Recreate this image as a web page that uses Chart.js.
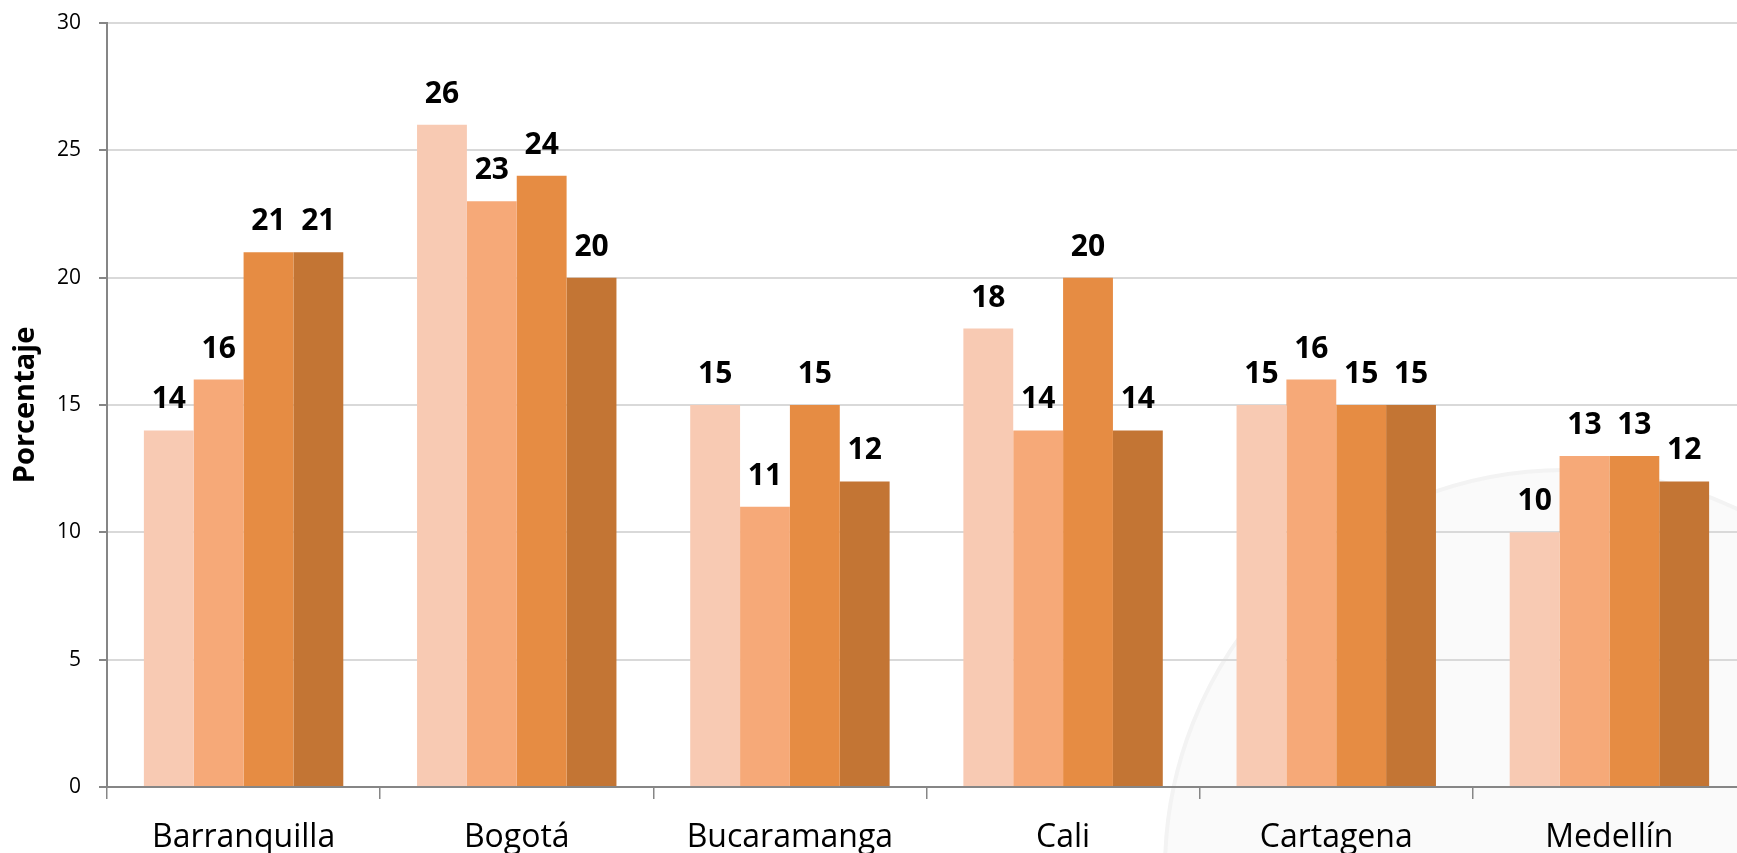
<!DOCTYPE html>
<html>
<head>
<meta charset="utf-8">
<script src="https://cdn.jsdelivr.net/npm/chart.js@4/dist/chart.umd.min.js"></script>
<style>
  html, body { margin: 0; padding: 0; background: #fff; overflow: hidden; }
  #wrap { position: relative; width: 1760px; height: 853px; }
</style>
</head>
<body>
<div id="wrap"><canvas id="chart"></canvas></div>
<script>
const ciudades = ['Barranquilla', 'Bogotá', 'Bucaramanga', 'Cali', 'Cartagena', 'Medellín'];
const serie1 = [14, 26, 15, 18, 15, 10];
const serie2 = [16, 23, 11, 14, 16, 13];
const serie3 = [21, 24, 15, 20, 15, 13];
const serie4 = [21, 20, 12, 14, 15, 12];
const yTicks = [0, 5, 10, 15, 20, 25, 30];

const colores = ['#F8CAB3', '#F6A978', '#E68C43', '#C37534'];
const FONT = "'Open Sans', 'DejaVu Sans', sans-serif";

// marca de agua tenue abajo a la derecha
const watermark = {
    id: 'watermark',
    beforeDraw(chart) {
        const ctx = chart.ctx;
        ctx.save();
        ctx.beginPath();
        ctx.arc(1565, 870, 400, 0, Math.PI * 2);
        ctx.fillStyle = '#FAFAFA';
        ctx.fill();
        ctx.lineWidth = 4;
        ctx.strokeStyle = '#F3F3F3';
        ctx.stroke();
        ctx.restore();
    }
};

// etiquetas de valor encima de cada barra
const valueLabels = {
    id: 'valueLabels',
    afterDatasetsDraw(chart) {
        const ctx = chart.ctx;
        ctx.save();
        ctx.font = 'bold 30px ' + FONT;
        ctx.fillStyle = '#000';
        ctx.textAlign = 'center';
        ctx.textBaseline = 'alphabetic';
        chart.data.datasets.forEach((ds, i) => {
            chart.getDatasetMeta(i).data.forEach((bar, j) => {
                ctx.fillText(ds.data[j], bar.x, bar.y - 22);
            });
        });
        ctx.restore();
    }
};

const ctx = document.getElementById('chart').getContext('2d');
const chart = new Chart(ctx, {
    type: 'bar',
    data: {
        labels: ciudades,
        datasets: [serie1, serie2, serie3, serie4].map((d, i) => ({
            label: 'Serie ' + (i + 1),
            data: d,
            backgroundColor: colores[i],
            borderWidth: 0,
            categoryPercentage: 0.73,
            barPercentage: 1
        }))
    },
    options: {
        responsive: true,
        maintainAspectRatio: false,
        animation: false,
        layout: { padding: { left: 0, top: 23, right: 14, bottom: 0 } },
        plugins: {
            legend: { display: false },
            tooltip: { enabled: false }
        },
        scales: {
            x: {
                grid: {
                    offset: true,
                    drawOnChartArea: false,
                    drawTicks: true,
                    tickLength: 12,
                    color: '#868686',
                    lineWidth: 1.5
                },
                border: { color: '#868686', width: 2 },
                ticks: {
                    color: '#000',
                    font: { family: FONT, size: 32 },
                    padding: 20,
                    maxRotation: 0
                },
                afterFit: s => { s.height = 853 - 787; }
            },
            y: {
                min: 0,
                max: 30,
                afterBuildTicks: s => { s.ticks = yTicks.map(v => ({ value: v })); },
                grid: {
                    color: '#D9D9D9',
                    lineWidth: 2,
                    tickLength: 8,
                    tickColor: '#868686'
                },
                border: { color: '#868686', width: 2 },
                ticks: {
                    color: '#000',
                    font: { family: FONT, size: 21 },
                    padding: 18
                },
                title: {
                    display: true,
                    text: 'Porcentaje',
                    color: '#000',
                    font: { family: FONT, size: 29, weight: 'bold' },
                    padding: { top: 8, bottom: 0 }
                },
                afterFit: s => {
                    s.width = 107;
                    s.paddingTop = 0;
                    s.paddingBottom = 0;
                }
            }
        }
    },
    plugins: [watermark, valueLabels]
});
</script>
</body>
</html>
